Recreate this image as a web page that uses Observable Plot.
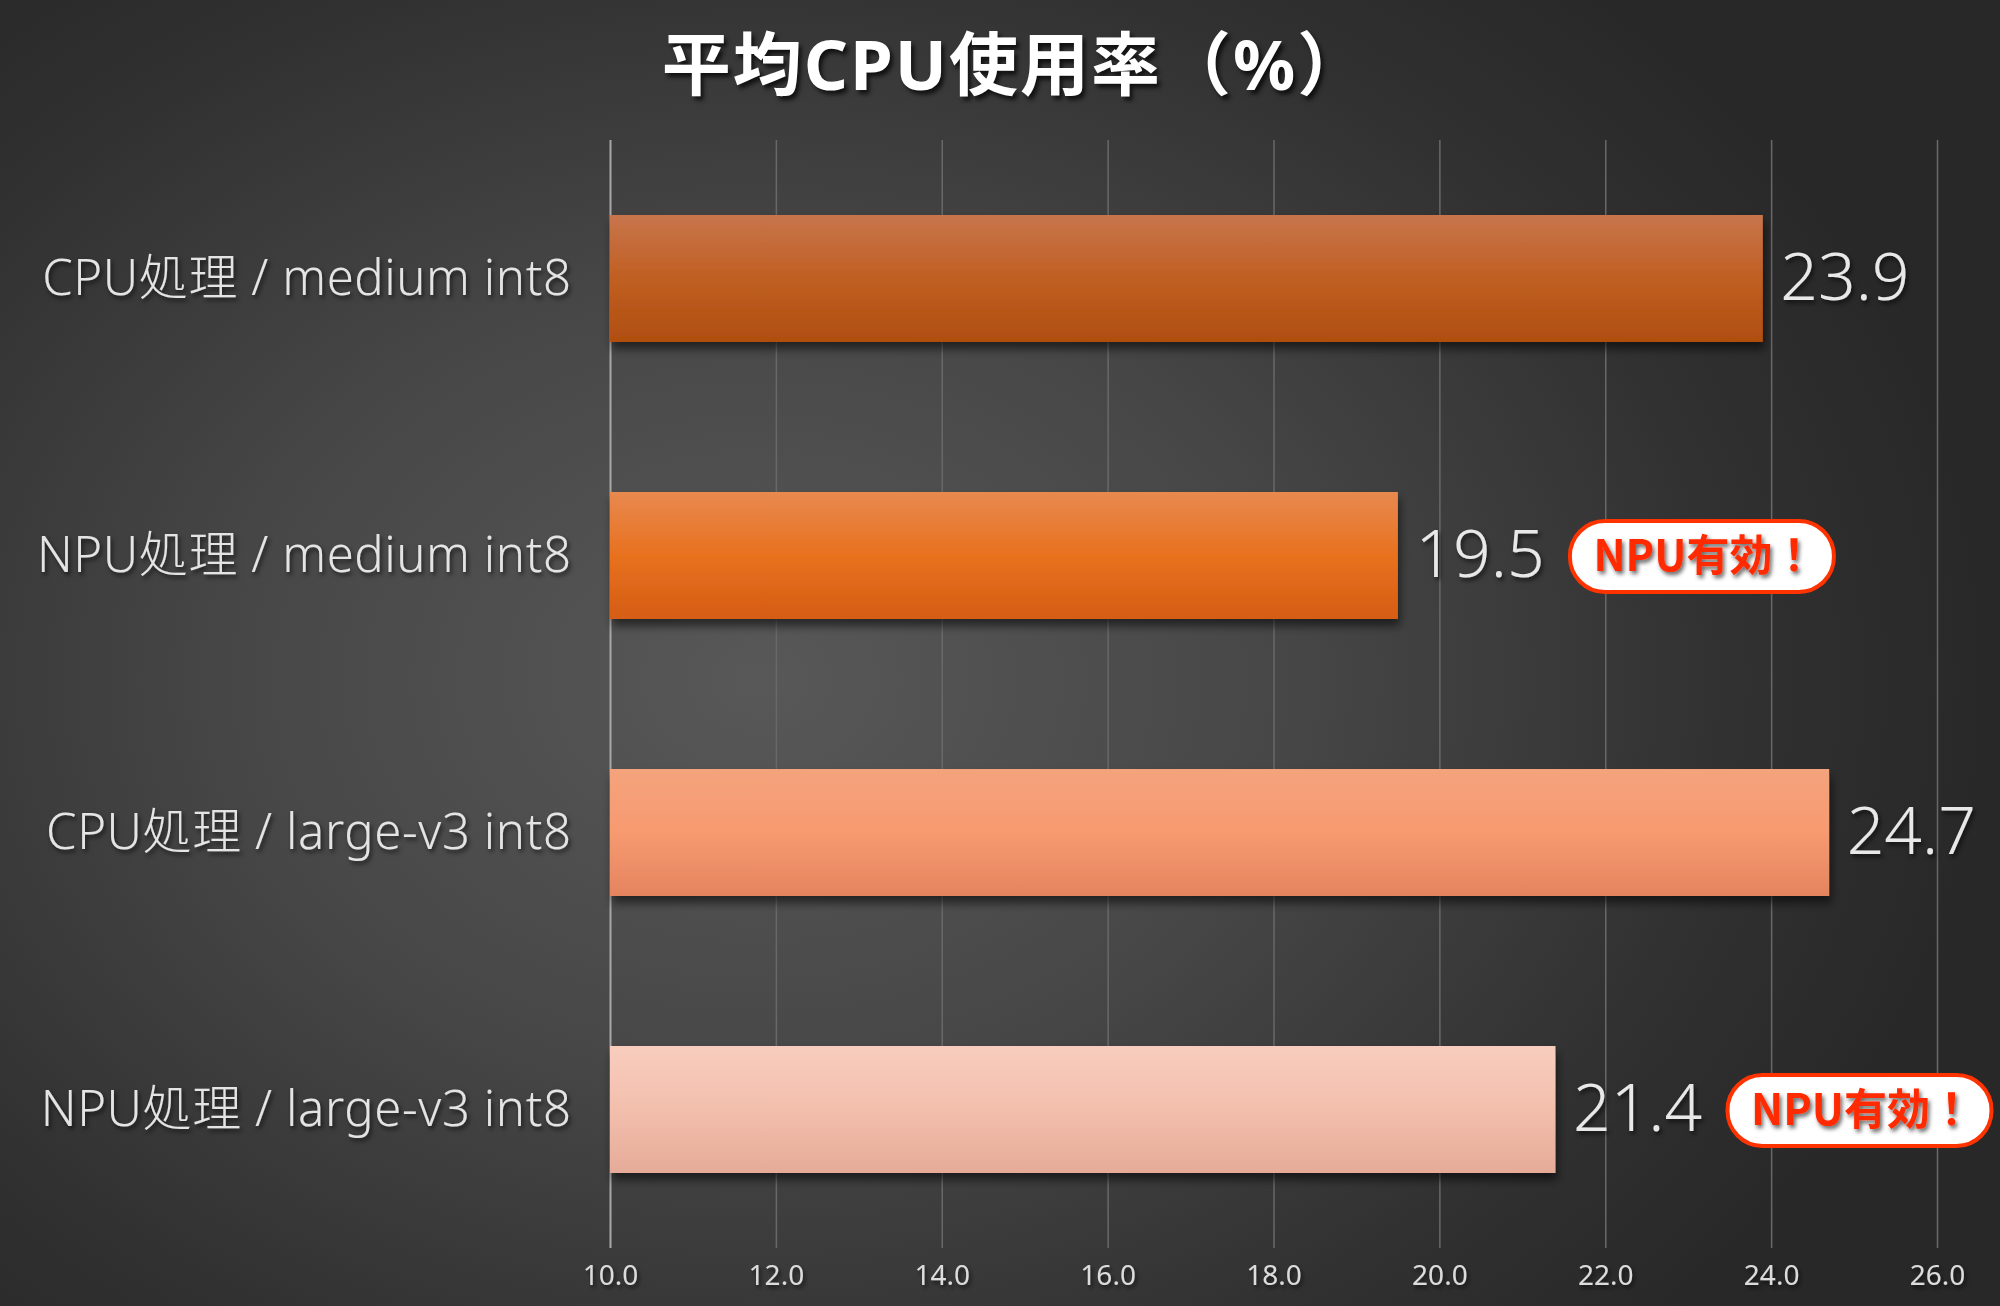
<!DOCTYPE html>
<html><head><meta charset="utf-8">
<script src="https://cdn.jsdelivr.net/npm/d3@7"></script>
<script src="https://cdn.jsdelivr.net/npm/@observablehq/plot@0.6"></script>
<style>
html,body{margin:0;padding:0;}
body{width:2000px;height:1306px;overflow:hidden;position:relative;
  background:radial-gradient(ellipse 62% 72% at 38% 52%, #585858 0%, #474747 42%, #303030 80%, #282828 100%);}
#title{position:absolute;left:15px;top:21px;width:2000px;text-align:center;color:#fff;
  font-family:'Noto Sans','Noto Sans CJK JP',sans-serif;font-weight:bold;font-size:69px;line-height:84px;
  letter-spacing:2px;text-shadow:3px 4px 4px rgba(0,0,0,0.7);}
#chart{position:absolute;left:0;top:0;}
</style></head><body>
<div id="chart"></div>
<div id="title"></div>
<script>
const titleText = "平均CPU使用率（%）";
const categories = ["CPU処理 / medium int8", "NPU処理 / medium int8", "CPU処理 / large-v3 int8", "NPU処理 / large-v3 int8"];
const values = [23.9, 19.5, 24.7, 21.4];
const badges = [false, true, false, true];
const badgeText = "NPU有効！";
const ticks = [10, 12, 14, 16, 18, 20, 22, 24, 26];
const barTop = ["#c8754c", "#e8894f", "#f4a37d", "#f8cdbe"];
const barMid = ["#c05f22", "#e8711f", "#f79a70", "#f3bfad"];
const barBottom = ["#b04e10", "#d55d14", "#e4845f", "#e5ab98"];

document.getElementById("title").textContent = titleText;

const data = categories.map((c, i) => ({category: c, value: values[i], badge: badges[i], i}));
const badgeData = data.filter(d => d.badge);

const defs = () => {
  const d = d3.create("svg:defs");
  data.forEach((row, i) => {
    const g = d.append("linearGradient").attr("id", "g" + i)
      .attr("x1", 0).attr("y1", 0).attr("x2", 0).attr("y2", 1);
    g.append("stop").attr("offset", "0%").attr("stop-color", barTop[i]);
    g.append("stop").attr("offset", "50%").attr("stop-color", barMid[i]);
    g.append("stop").attr("offset", "100%").attr("stop-color", barBottom[i]);
  });
  const f = d.append("filter").attr("id", "shadow")
    .attr("x", "-5%").attr("y", "-20%").attr("width", "110%").attr("height", "150%");
  f.append("feDropShadow").attr("dx", 2).attr("dy", 7).attr("stdDeviation", 5)
    .attr("flood-color", "#000").attr("flood-opacity", 0.55);
  const t = d.append("filter").attr("id", "tshadow")
    .attr("x", "-10%").attr("y", "-20%").attr("width", "120%").attr("height", "150%");
  t.append("feDropShadow").attr("dx", 2).attr("dy", 3).attr("stdDeviation", 2)
    .attr("flood-color", "#000").attr("flood-opacity", 0.6);
  return d.node();
};

const latin = "'Noto Sans', 'Noto Sans CJK JP', sans-serif";

const chart = Plot.plot({
  width: 2000,
  height: 1306,
  marginTop: 140,
  marginBottom: 58,
  marginLeft: 610,
  marginRight: 63,
  x: {domain: [10, 26], label: null},
  y: {domain: categories, paddingInner: 0.54, paddingOuter: 0.27, label: null},
  style: {background: "transparent", color: "#ddd", fontFamily: latin, overflow: "visible"},
  marks: [
    defs,
    Plot.gridX(ticks.slice(1), {stroke: "#686868", strokeOpacity: 1, strokeWidth: 1.5}),
    Plot.ruleX([10], {stroke: "#a8a8a8", strokeWidth: 2}),
    ...data.map((d, i) => Plot.barX([d], {x1: () => 10, x2: "value", y: "category", fill: `url(#g${i})`})),
    Plot.axisX(ticks, {label: null, tickSize: 0, tickPadding: 17, fontSize: 28, fill: "#dcdcdc", tickFormat: d => d.toFixed(1)}),
    Plot.axisY({label: null, tickSize: 0, tickPadding: 39, fontSize: 49, fill: "#e4e4e4", fontWeight: 300}),
    Plot.text(data, {x: "value", y: "category", text: d => d.value.toFixed(1), textAnchor: "start", dx: 17, fontSize: 66, fill: "#e8e8e8", fontWeight: 300}),
    Plot.barX(badgeData, {x1: "value", x2: "value", y: "category", insetLeft: 172, insetRight: -436, insetTop: 29, insetBottom: 27, rx: 35, fill: "white", stroke: "#ff3300", strokeWidth: 4}),
    Plot.text(badgeData, {x: "value", y: "category", text: () => badgeText, dx: 306, dy: 1, fontSize: 43, fontWeight: "bold", fill: "#ff2a00", fontFamily: "'Noto Sans CJK JP', sans-serif"})
  ]
});

const sel = d3.select(chart);
sel.selectAll("g[aria-label='bar']").each(function() {
  const f = this.getAttribute("fill") || "";
  if (f.startsWith("url(")) this.setAttribute("filter", "url(#shadow)");
});
sel.selectAll("g[aria-label='y-axis tick label']").style("letter-spacing", "0.6px");
sel.selectAll("g[aria-label='text'], g[aria-label='y-axis tick label'], g[aria-label='x-axis tick label']")
  .attr("filter", "url(#tshadow)");
document.getElementById("chart").appendChild(chart);
</script>
</body></html>
